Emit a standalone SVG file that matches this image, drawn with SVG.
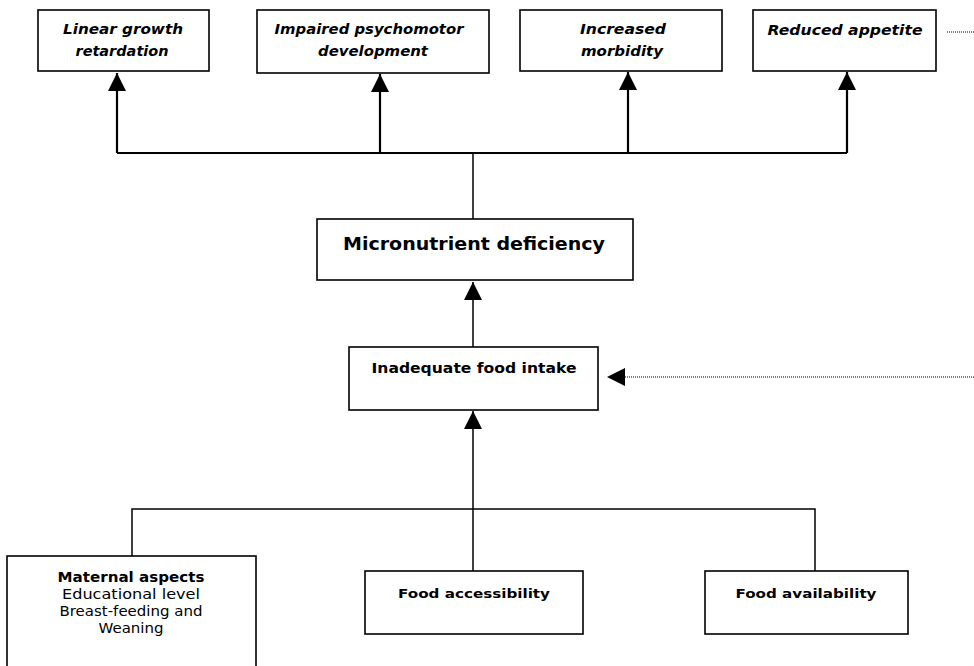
<svg xmlns="http://www.w3.org/2000/svg" width="974" height="666" viewBox="0 0 974 666">
<style>
.box{fill:#fff;stroke:#000;stroke-width:1.6}
.ln{fill:none;stroke:#000;stroke-width:1.5}
.th{fill:none;stroke:#000;stroke-width:2.2}
.dot{fill:none;stroke:#000;stroke-width:1;stroke-dasharray:1 1}
.t{font-family:"DejaVu Sans","Liberation Sans",sans-serif;fill:#000;text-anchor:middle}
.bi{font-weight:bold;font-style:italic;font-size:14px}
.b{font-weight:bold}
</style>
<defs>
<marker id="ah2" viewBox="0 0 10 10" refX="10" refY="5" markerWidth="18" markerHeight="18" markerUnits="userSpaceOnUse" orient="auto">
<path d="M0,0 L10,5 L0,10 Z" fill="#000"/>
</marker>
</defs>
<rect width="974" height="666" fill="#fff"/>
<g id="connectors">
<path class="th" d="M117,153 H847"/>
<path class="th" d="M117,153 V73" marker-end="url(#ah2)"/>
<path class="th" d="M380,153 V74" marker-end="url(#ah2)"/>
<path class="th" d="M628,153 V72" marker-end="url(#ah2)"/>
<path class="th" d="M847,153 V72" marker-end="url(#ah2)"/>
<path class="ln" d="M473,153 V219"/>
<path class="ln" d="M473,347 V282" marker-end="url(#ah2)"/>
<path class="ln" d="M473,571 V411" marker-end="url(#ah2)"/>
<path class="ln" d="M132,556 V509 H815 V571"/>
<path class="dot" d="M974,377 H624"/>
<path d="M607,377 L625,368 L625,386 Z" fill="#000"/>
<path class="dot" d="M947,32 H974"/>
</g>
<g id="n-linear">
<rect class="box" x="38" y="10" width="171" height="61"/>
<text class="t bi" x="123" y="34" textLength="120" lengthAdjust="spacingAndGlyphs">Linear growth</text>
<text class="t bi" x="122" y="56" textLength="93" lengthAdjust="spacingAndGlyphs">retardation</text>
</g>
<g id="n-psychomotor">
<rect class="box" x="257" y="10" width="232" height="63"/>
<text class="t bi" x="369" y="34" textLength="189" lengthAdjust="spacingAndGlyphs">Impaired psychomotor</text>
<text class="t bi" x="373" y="56" textLength="110" lengthAdjust="spacingAndGlyphs">development</text>
</g>
<g id="n-morbidity">
<rect class="box" x="520" y="10" width="202" height="61"/>
<text class="t bi" x="623" y="34" textLength="86" lengthAdjust="spacingAndGlyphs">Increased</text>
<text class="t bi" x="622" y="56" textLength="82" lengthAdjust="spacingAndGlyphs">morbidity</text>
</g>
<g id="n-appetite">
<rect class="box" x="753" y="10" width="183" height="61"/>
<text class="t bi" x="845" y="35" textLength="155" lengthAdjust="spacingAndGlyphs">Reduced appetite</text>
</g>
<g id="n-micronutrient">
<rect class="box" x="317" y="219" width="316" height="61"/>
<text class="t b" x="474" y="250" font-size="17" textLength="262" lengthAdjust="spacingAndGlyphs">Micronutrient deficiency</text>
</g>
<g id="n-intake">
<rect class="box" x="349" y="347" width="249" height="63"/>
<text class="t b" x="474" y="373" font-size="14" textLength="205" lengthAdjust="spacingAndGlyphs">Inadequate food intake</text>
</g>
<g id="n-maternal">
<rect class="box" x="7" y="556" width="249" height="118"/>
<text class="t b" x="131" y="582" font-size="14" textLength="147" lengthAdjust="spacingAndGlyphs">Maternal aspects</text>
<text class="t" x="131" y="599" font-size="14" textLength="138" lengthAdjust="spacingAndGlyphs">Educational level</text>
<text class="t" x="131" y="616" font-size="14" textLength="143" lengthAdjust="spacingAndGlyphs">Breast-feeding and</text>
<text class="t" x="131" y="633" font-size="14" textLength="65" lengthAdjust="spacingAndGlyphs">Weaning</text>
</g>
<g id="n-accessibility">
<rect class="box" x="365" y="571" width="218" height="63"/>
<text class="t b" x="474" y="598" font-size="13" textLength="152" lengthAdjust="spacingAndGlyphs">Food accessibility</text>
</g>
<g id="n-availability">
<rect class="box" x="705" y="571" width="203" height="63"/>
<text class="t b" x="806" y="598" font-size="13" textLength="141" lengthAdjust="spacingAndGlyphs">Food availability</text>
</g>
</svg>
